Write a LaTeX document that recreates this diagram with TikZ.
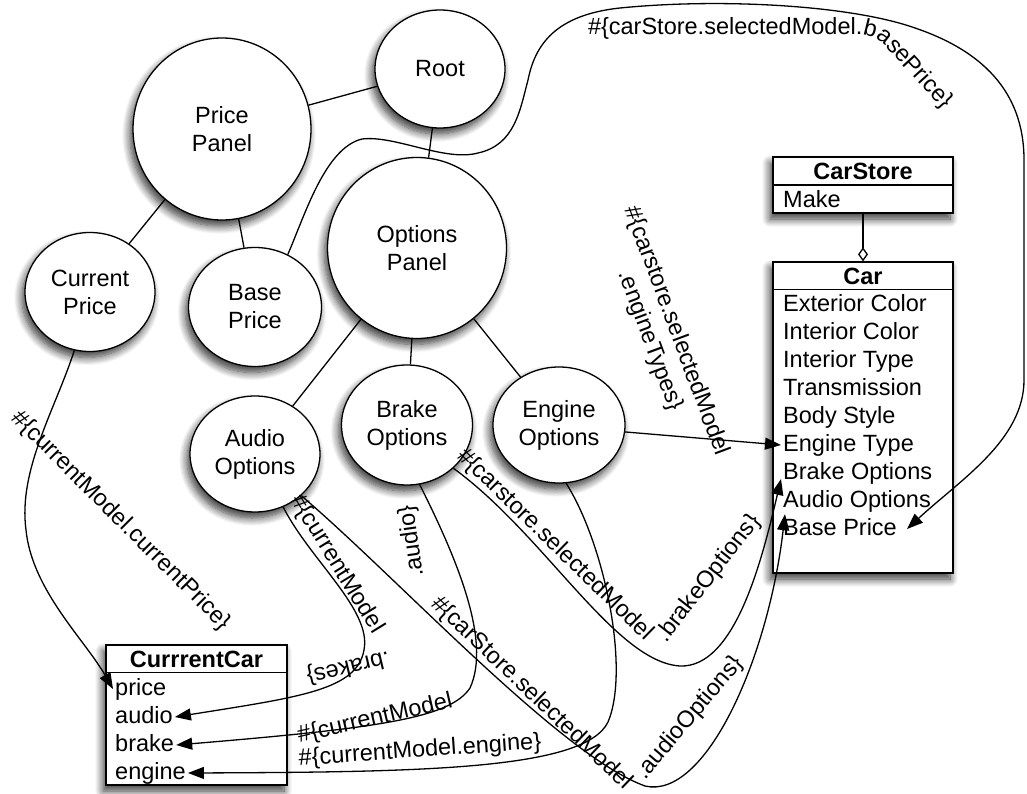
\documentclass[tikz,border=0pt]{standalone}
\usepackage{fontspec}
\setmainfont{Liberation Sans}
\usetikzlibrary{shapes.geometric,arrows.meta,shadows.blur,decorations.text}

\begin{document}
\fontsize{23.5}{28}\selectfont
\begin{tikzpicture}[x=1pt,y=-1pt,
  softshadow/.style={blur shadow={shadow xshift=-3pt, shadow yshift=-6pt, shadow blur radius=8pt, shadow blur steps=10, shadow opacity=80}},
  bubble/.style={draw, ellipse, fill=white, line width=1.3pt, inner sep=0pt, align=center, softshadow},
  classbox/.style={draw, rectangle, fill=white, line width=1.3pt, inner sep=0pt, softshadow},
  attr/.style={anchor=base west, inner sep=2pt, text height=17pt, text depth=5pt},
  boxtitle/.style={anchor=base, inner sep=2pt, font=\bfseries},
  tree/.style={line width=1.3pt},
  conn/.style={line width=1.3pt, -{Triangle[length=16pt,width=12pt]}},
  lbl/.style={inner sep=0pt},
  pathlabel/.style={decorate, decoration={text along path, text align=left, text={#1}}}
]
\useasboundingbox (0,0) rectangle (1027,794);

% ---- component tree ----
\node[bubble, minimum width=130pt, minimum height=118pt] (root) at (440,69) {Root};
\node[bubble, minimum width=178pt, minimum height=182pt] (pp) at (222,129) {Price\\Panel};
\node[bubble, minimum width=130pt, minimum height=119pt] (cp) at (90,292) {Current\\Price};
\node[bubble, minimum width=133pt, minimum height=119pt] (bp) at (255,307) {Base\\Price};
\node[bubble, minimum width=179pt, minimum height=181pt] (op) at (417,248) {Options\\Panel};
\node[bubble, minimum width=130pt, minimum height=116pt] (ao) at (255,454) {Audio\\Options};
\node[bubble, minimum width=131pt, minimum height=120pt] (bo) at (407,425) {Brake\\Options};
\node[bubble, minimum width=132pt, minimum height=116pt] (eo) at (559,425) {Engine\\Options};

\draw[tree] (pp) -- (root);
\draw[tree] (root) -- (op);
\draw[tree] (pp) -- (cp);
\draw[tree] (pp) -- (bp);
\draw[tree] (op) -- (ao);
\draw[tree] (op) -- (bo);
\draw[tree] (op) -- (eo);

% ---- CarStore class ----
\node[classbox, minimum width=180pt, minimum height=56pt] (carstore) at (863,185) {};
\draw[tree] (carstore.west) -- (carstore.east);
\node[boxtitle] (carstoretitle) at (863,179.5) {CarStore};
\node[attr] (make) at (781,207.5) {Make};

% ---- Car class ----
\node[classbox, minimum width=180pt, minimum height=311pt] (car) at (863,417.5) {};
\draw[tree] ([yshift=-28pt]car.north west) -- ([yshift=-28pt]car.north east);
\node[boxtitle] (cartitle) at (863,284.5) {Car};
\node[attr] (extcol) at (781,311) {Exterior Color};
\node[attr] (intcol) at (781,339) {Interior Color};
\node[attr] (inttype) at (781,367) {Interior Type};
\node[attr] (trans) at (781,395) {Transmission};
\node[attr] (body) at (781,423) {Body Style};
\node[attr] (engtype) at (781,451) {Engine Type};
\node[attr] (brakeop) at (781,479) {Brake Options};
\node[attr] (audop) at (781,507) {Audio Options};
\node[attr] (basep) at (781,535) {Base Price};

\draw[line width=1.3pt, -{Diamond[open, length=14pt, width=10pt]}] (carstore.south) -- (car.north);

% ---- CurrrentCar class ----
\node[classbox, minimum width=181pt, minimum height=140pt] (cc) at (196.5,715) {};
\draw[tree] ([yshift=-28pt]cc.north west) -- ([yshift=-28pt]cc.north east);
\node[boxtitle] (cctitle) at (196.5,667.5) {CurrrentCar};
\node[attr] (price) at (113,695) {price};
\node[attr] (audio) at (113,723) {audio};
\node[attr] (brake) at (113,751) {brake};
\node[attr] (engine) at (113,779) {engine};

% ---- value bindings ----
\draw[conn] (bp.58) .. controls (305,215) and (325,148) .. (362,139)
  .. controls (395,135) and (445,162) .. (478,153)
  .. controls (515,145) and (520,110) .. (528,80)
  .. controls (535,45) and (555,15) .. (620,8)
  .. controls (720,-2) and (850,5) .. (915,28)
  .. controls (980,50) and (1024,90) .. (1024,160)
  -- (1024,380)
  .. controls (1024,440) and (960,480) .. ([xshift=8pt]basep.east);

\draw[conn] (cp.-105) .. controls (55,410) and (18,470) .. (26,530)
  .. controls (32,590) and (85,640) .. (price.west);

\draw[conn] (ao.-62) .. controls (310,560) and (372,610) .. (364,650)
  .. controls (357,690) and (300,697) .. (audio.east);

\draw[conn] (bo.-78) .. controls (455,555) and (492,640) .. (470,688)
  .. controls (450,718) and (380,728) .. (brake.east);

\draw[conn] (eo.-83) .. controls (605,545) and (630,670) .. (608,722)
  .. controls (585,770) and (420,772) .. (engine.east);

\draw[conn] (ao.-42) .. controls (400,580) and (560,755) .. (645,786)
  .. controls (705,800) and (768,660) .. ([xshift=4pt]audop.south west);

\draw[conn] (bo.-43) .. controls (545,535) and (615,662) .. (680,666)
  .. controls (735,668) and (762,560) .. (brakeop.base west);

\draw[conn] (eo.-6) -- (engtype.west);

% ---- binding expressions ----
\path[pathlabel={{\#}{\{}carStore.selectedModel.basePrice{\}}}]
  (588,35) -- (862,35) .. controls (872,35) and (880,40) .. (887,48) -- (962,130);
\path[pathlabel={{\#}{\{}currentModel}] (290,500) -- (380,646);
\path[pathlabel={.brakes{\}}}] (388,651) -- (296,673);
\path[pathlabel={{\#}{\{}carstore.selectedModel}] (456,457) -- (660,656);
\path[pathlabel={.brakeOptions{\}}}] (666,643) -- (770,510);
\path[pathlabel={{\#}{\{}carStore.selectedModel}] (430,605) -- (640,805);
\path[pathlabel={.audioOptions{\}}}] (645,780) -- (752,654);

\node[lbl, rotate=-45] (lcurprice) at (121,521) {\#\{currentModel.currentPrice\}};
\node[lbl, rotate=-69.6, align=center] (lengine) at (663,336) {\#\{carstore.selectedModel\\.engineTypes\}};
\node[lbl, rotate=98] (laudio) at (412,541) {.audio\}};
\node[lbl, rotate=13] (lcurmodel) at (375,719) {\#\{currentModel};
\node[lbl, rotate=4] (lcurengine) at (420,751) {\#\{currentModel.engine\}};
\end{tikzpicture}
\end{document}
